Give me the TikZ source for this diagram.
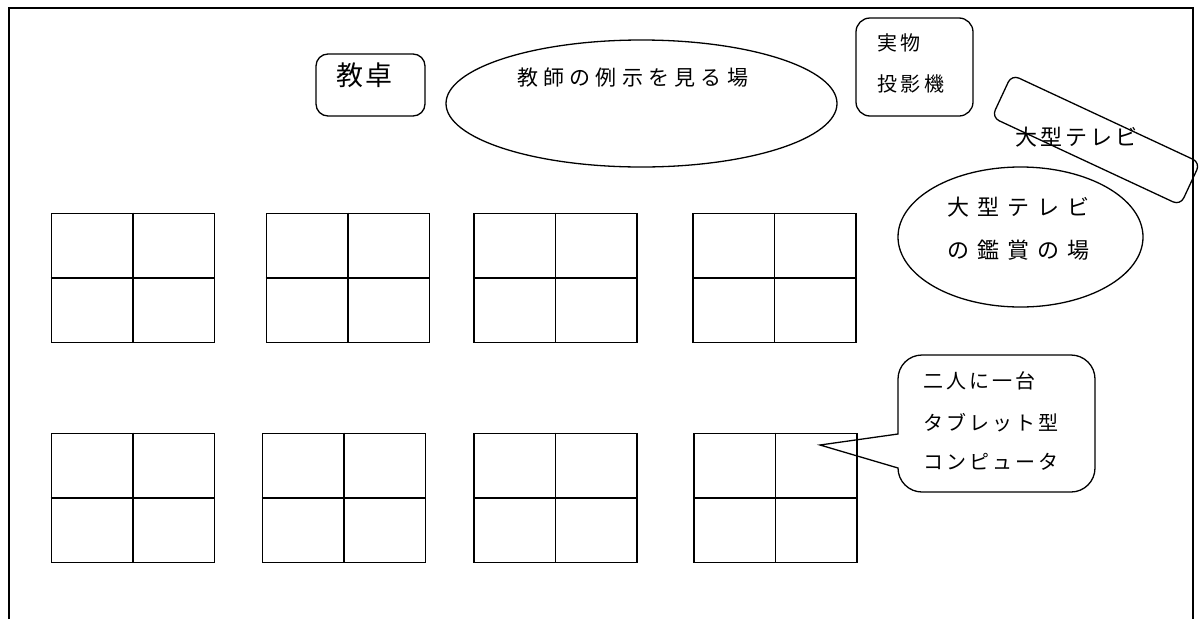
\documentclass[tikz,border=0pt]{standalone}
\usepackage{fontspec}
\newfontfamily\jp{Noto Sans CJK JP}
\usetikzlibrary{shapes.geometric}
\newcommand\jtxt[2]{\jp\fontsize{#1}{#1}\selectfont\addfontfeature{LetterSpace=#2}}
\tikzset{
  frameline/.style={line width=1.6pt},
  desk/.style={draw, line width=1.6pt, minimum width=163pt, minimum height=129pt, inner sep=0pt},
  deskline/.style={line width=1.6pt},
  rbox/.style={draw, line width=1.3pt, rounded corners=12pt, inner sep=0pt},
  oval/.style={draw, ellipse, line width=1.3pt, inner sep=0pt},
  jtext/.style={inner sep=0pt, text height=0.88em, text depth=0.12em, anchor=west},
}
\begin{document}
\begin{tikzpicture}[x=1pt, y=-1pt]
\useasboundingbox (0,0) rectangle (1202,619);
% room outline
\draw[frameline] (9,619) -- (9,8) -- (1193,8) -- (1193,619);
% desks
\foreach \n/\x/\y in {a/133/278, b/348/278, c/555.5/278, d/774.5/278,
                      e/133/498, f/344/498, g/555.5/498, h/775.5/498}{
  \node[desk] (\n) at (\x,\y) {};
  \draw[deskline] (\n.north) -- (\n.south);
  \draw[deskline] (\n.west) -- (\n.east);
}
% teacher desk
\node[rbox, minimum width=109pt, minimum height=62pt] (kyotakubox) at (370.5,85) {};
\node[jtext, font=\jtxt{27pt}{10}] (kyotaku) at (336,82) {教卓};
% teacher demonstration area
\node[oval, minimum width=391pt, minimum height=127pt] (demo) at (641.5,103.5) {};
\node[jtext, font=\jtxt{21pt}{25}] (demotext) at (517,82) {教師の例示を見る場};
% document camera
\node[rbox, rounded corners=14pt, minimum width=117pt, minimum height=98pt] (cambox) at (914.5,67) {};
\node[jtext, font=\jtxt{20pt}{18}] (cam1) at (877,47) {実物};
\node[jtext, font=\jtxt{20pt}{18}] (cam2) at (877,88) {投影機};
% large TV
\node[rbox, rounded corners=8pt, minimum width=208pt, minimum height=47pt, rotate=-25] (tvbox) at (1096,140) {};
\node[jtext, font=\jtxt{22pt}{14}] (tvtext) at (1015,142) {大型テレビ};
% TV viewing area
\node[oval, minimum width=245pt, minimum height=140pt] (tvarea) at (1020.5,237) {};
\node[jtext, font=\jtxt{22pt}{37}] (tva1) at (947,212) {大型テレビ};
\node[jtext, font=\jtxt{22pt}{37}] (tva2) at (947,255) {の鑑賞の場};
% callout
\coordinate (tip) at (820,445);
\draw[line width=1.3pt] (898,434) [rounded corners=24pt] -- (898,355) -- (1095,355) -- (1095,492) -- (898,492) [sharp corners] -- (898,468) -- (tip) -- cycle;
\node[jtext, font=\jtxt{20pt}{15}] (c1) at (923,385) {二人に一台};
\node[jtext, font=\jtxt{20pt}{15}] (c2) at (923,427) {タブレット型};
\node[jtext, font=\jtxt{20pt}{15}] (c3) at (923,466) {コンピュータ};
\end{tikzpicture}
\end{document}
